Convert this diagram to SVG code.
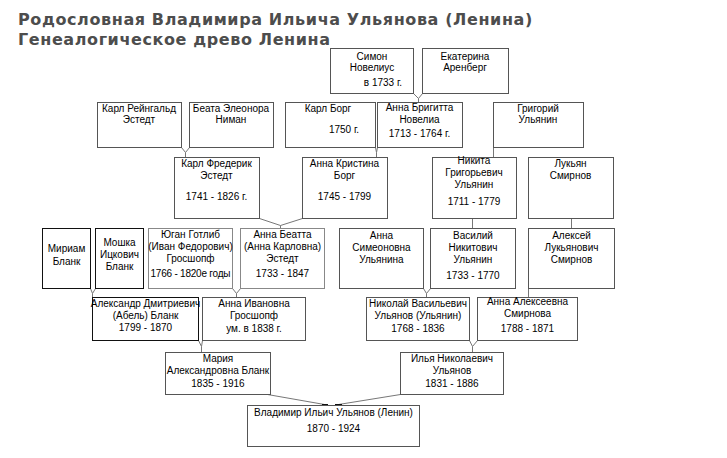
<svg xmlns="http://www.w3.org/2000/svg" width="727" height="458" viewBox="0 0 727 458">
<style>
.t{font-family:"DejaVu Sans",Verdana,sans-serif;font-weight:bold;font-size:16px;letter-spacing:0.6px;fill:#4d4d4d}
.b{fill:#fff;stroke:#555;stroke-width:1}
.k{fill:#fff;stroke:#111;stroke-width:1}
.g{fill:#fff;stroke:#888;stroke-width:1}
text.n{font-family:"Liberation Sans",Arial,sans-serif;font-size:10px;fill:#000;text-anchor:middle}
.c{fill:none;stroke:#777;stroke-width:1}
</style>
<rect width="727" height="458" fill="#fff"/>
<text class="t" x="18" y="25">Родословная Владимира Ильича Ульянова (Ленина)</text>
<text class="t" x="18" y="45">Генеалогическое древо Ленина</text>

<g id="connectors">
<polyline class="c" points="413.5,93.5 418.5,98.5 422.5,93.5"/><line class="c" x1="418.5" y1="98.5" x2="418.5" y2="102.5"/>
<polyline class="c" points="181.5,147.5 185.5,152.5 189.5,147.5"/><line class="c" x1="185.5" y1="152.5" x2="185.5" y2="157.5"/>
<polyline class="c" points="375.5,147.5 376.5,152.5 377.5,147.5"/><line class="c" x1="376.5" y1="152.5" x2="376.5" y2="157.5"/>
<line class="c" x1="493.5" y1="147.5" x2="493.5" y2="157.5"/>
<polyline class="c" points="259.5,218.5 280.5,225.5 302.5,218.5"/><line class="c" x1="280.5" y1="225.5" x2="280.5" y2="228.5"/>
<line class="c" x1="472.5" y1="218.5" x2="472.5" y2="228.5"/>
<line class="c" x1="571.5" y1="218.5" x2="571.5" y2="228.5"/>
<polyline class="c" points="90.5,288.5 92.5,293.5 95.5,288.5"/><line class="c" x1="92.5" y1="293.5" x2="92.5" y2="297.5"/>
<polyline class="c" points="232.5,288.5 236.5,293.5 240.5,288.5"/><line class="c" x1="236.5" y1="293.5" x2="236.5" y2="297.5"/>
<polyline class="c" points="423.5,288.5 426.5,293.5 430.5,288.5"/><line class="c" x1="426.5" y1="293.5" x2="426.5" y2="297.5"/>
<line class="c" x1="528.5" y1="288.5" x2="528.5" y2="297.5"/>
<polyline class="c" points="198.5,340.5 201.5,346.5 202.5,340.5"/><line class="c" x1="201.5" y1="346.5" x2="201.5" y2="352.5"/>
<polyline class="c" points="469.5,340.5 472.5,346.5 477.5,340.5"/><line class="c" x1="472.5" y1="346.5" x2="472.5" y2="352.5"/>
<polyline class="c" points="267.5,394.5 324.5,404.5"/><polyline class="c" points="400.5,394.5 338.5,404.5"/>
<line x1="322" y1="405" x2="328" y2="405" stroke="#111" stroke-width="2"/>
<line x1="335" y1="405" x2="342" y2="405" stroke="#111" stroke-width="2"/>
</g>

<g id="simon"><rect class="b" x="330.5" y="48.5" width="83" height="45"/>
<text class="n" x="372" y="60">Симон</text><text class="n" x="372" y="71">Новелиус</text><text class="n" x="383" y="86">в 1733 г.</text></g>
<g id="ekaterina"><rect class="b" x="422.5" y="48.5" width="86" height="45"/>
<text class="n" x="465" y="60">Екатерина</text><text class="n" x="465" y="71">Аренберг</text></g>

<g id="karl-reingald"><rect class="b" x="97.5" y="102.5" width="84" height="45"/>
<text class="n" x="139" y="112">Карл Рейнгальд</text><text class="n" x="139" y="123">Эстедт</text></g>
<g id="beata"><rect class="b" x="189.5" y="102.5" width="84" height="45"/>
<text class="n" x="231" y="112">Беата Элеонора</text><text class="n" x="231" y="123">Ниман</text></g>
<g id="karl-borg"><rect class="b" x="285.5" y="102.5" width="90" height="45"/>
<text class="n" x="328" y="112">Карл Борг</text><text class="n" x="344" y="133">1750 г.</text></g>
<g id="anna-brigitta"><rect class="b" x="377.5" y="102.5" width="85" height="45"/>
<text class="n" x="419.5" y="111">Анна Бригитта</text><text class="n" x="419.5" y="123">Новелиа</text><text class="n" x="419.5" y="137">1713 - 1764 г.</text></g>
<g id="grigory"><rect class="b" x="493.5" y="102.5" width="90" height="45"/>
<text class="n" x="538" y="112">Григорий</text><text class="n" x="538" y="123">Ульянин</text></g>

<g id="karl-frederik"><rect class="b" x="174.5" y="157.5" width="85" height="61"/>
<text class="n" x="216.5" y="167">Карл Фредерик</text><text class="n" x="216.5" y="179">Эстедт</text><text class="n" x="216.5" y="200">1741 - 1826 г.</text></g>
<g id="anna-kristina"><rect class="b" x="302.5" y="157.5" width="85" height="61"/>
<text class="n" x="344.5" y="167">Анна Кристина</text><text class="n" x="344.5" y="179">Борг</text><text class="n" x="344.5" y="200">1745 - 1799</text></g>
<g id="nikita"><rect class="b" x="432.5" y="157.5" width="84" height="61"/>
<text class="n" x="474" y="164">Никита</text><text class="n" x="474" y="176">Григорьевич</text><text class="n" x="474" y="188">Ульянин</text><text class="n" x="474" y="205">1711 - 1779</text></g>
<g id="lukyan"><rect class="b" x="528.5" y="157.5" width="85" height="61"/>
<text class="n" x="570.5" y="167">Лукьян</text><text class="n" x="570.5" y="179">Смирнов</text></g>

<g id="miriam"><rect class="k" x="42.5" y="228.5" width="48" height="60"/>
<text class="n" x="66.5" y="252">Мириам</text><text class="n" x="66.5" y="265">Бланк</text></g>
<g id="moshka"><rect class="k" x="95.5" y="228.5" width="48" height="60"/>
<text class="n" x="119.5" y="246">Мошка</text><text class="n" x="119.5" y="258">Ицкович</text><text class="n" x="119.5" y="270">Бланк</text></g>
<g id="yugan"><rect class="g" x="148.5" y="228.5" width="84" height="60"/>
<text class="n" x="190.5" y="238">Юган Готлиб</text><text class="n" x="190.5" y="250">(Иван Федорович)</text><text class="n" x="190.5" y="262">Гросшопф</text><text class="n" x="190.5" y="277" textLength="80">1766 - 1820е годы</text></g>
<g id="anna-beatta"><rect class="g" x="240.5" y="228.5" width="84" height="60"/>
<text class="n" x="282.5" y="238">Анна Беатта</text><text class="n" x="282.5" y="250">(Анна Карловна)</text><text class="n" x="282.5" y="262">Эстедт</text><text class="n" x="282.5" y="277">1733 - 1847</text></g>
<g id="anna-simeonovna"><rect class="b" x="339.5" y="228.5" width="84" height="60"/>
<text class="n" x="381.5" y="239">Анна</text><text class="n" x="381.5" y="251">Симеоновна</text><text class="n" x="381.5" y="263">Ульянина</text></g>
<g id="vasily"><rect class="b" x="430.5" y="228.5" width="85" height="60"/>
<text class="n" x="473" y="239">Василий</text><text class="n" x="473" y="251">Никитович</text><text class="n" x="473" y="263">Ульянин</text><text class="n" x="473" y="279">1733 - 1770</text></g>
<g id="aleksey"><rect class="b" x="528.5" y="228.5" width="86" height="60"/>
<text class="n" x="571.5" y="239">Алексей</text><text class="n" x="571.5" y="251">Лукьянович</text><text class="n" x="571.5" y="263">Смирнов</text></g>

<g id="aleksandr"><rect class="k" x="92.5" y="297.5" width="106" height="43"/>
<text class="n" x="145.5" y="307">Александр Дмитриевич</text><text class="n" x="145.5" y="319">(Абель) Бланк</text><text class="n" x="145.5" y="331">1799 - 1870</text></g>
<g id="anna-ivanovna"><rect class="b" x="202.5" y="297.5" width="103" height="43"/>
<text class="n" x="254" y="307">Анна Ивановна</text><text class="n" x="254" y="319">Гросшопф</text><text class="n" x="254" y="332">ум. в 1838 г.</text></g>
<g id="nikolay"><rect class="b" x="366.5" y="297.5" width="103" height="43"/>
<text class="n" x="418" y="307">Николай Васильевич</text><text class="n" x="418" y="319">Ульянов (Ульянин)</text><text class="n" x="418" y="332">1768 - 1836</text></g>
<g id="anna-alekseevna"><rect class="b" x="477.5" y="297.5" width="100" height="43"/>
<text class="n" x="527.5" y="305">Анна Алексеевна</text><text class="n" x="527.5" y="317">Смирнова</text><text class="n" x="527.5" y="332">1788 - 1871</text></g>

<g id="maria"><rect class="b" x="165.5" y="352.5" width="105" height="42"/>
<text class="n" x="218" y="362">Мария</text><text class="n" x="218" y="374">Александровна Бланк</text><text class="n" x="218" y="387">1835 - 1916</text></g>
<g id="ilya"><rect class="b" x="400.5" y="352.5" width="103" height="42"/>
<text class="n" x="452" y="362">Илья Николаевич</text><text class="n" x="452" y="374">Ульянов</text><text class="n" x="452" y="387">1831 - 1886</text></g>

<g id="vladimir"><rect class="b" x="247.5" y="405.5" width="172" height="41"/>
<text class="n" x="333.5" y="416">Владимир Ильич Ульянов (Ленин)</text><text class="n" x="333.5" y="432">1870 - 1924</text></g>
</svg>
